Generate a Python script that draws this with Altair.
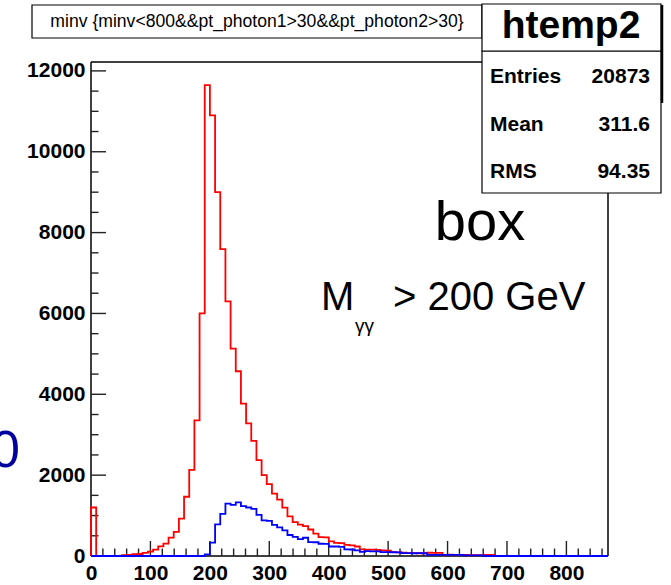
import altair as alt
import pandas as pd

# ---- histogram contents: 100 bins of width 8.7 over [0, 870] ----
BIN_WIDTH = 8.7
X_MAX = 870.0
Y_MAX = 12220

red_counts = [
    1200, 0, 0, 0, 0, 0, 20, 30, 45, 50,
    75, 108, 157, 240, 306, 455, 596, 927, 1466, 2129,
    3353, 6000, 11650, 10900, 9000, 7590, 6300, 5130, 4570, 3770,
    3280, 2850, 2370, 2000, 1776, 1545, 1396, 1197, 981, 840,
    775, 740, 655, 555, 467, 460, 360, 325, 320, 275,
    265, 235, 165, 160, 158, 150, 137, 130, 95, 90,
    80, 70, 70, 68, 70, 80, 78, 75, 30, 32,
    28, 30, 25, 18, 22, 20, 25, 25, 0, 0,
    0, 0, 0, 0, 0, 0, 0, 0, 0, 0,
    0, 0, 0, 0, 0, 0, 0, 0, 0, 0,
]

blue_counts = [
    0, 0, 0, 0, 0, 0, 0, 0, 0, 0,
    0, 0, 0, 0, 0, 0, 0, 0, 0, 0,
    0, 0, 40, 330, 780, 1040, 1297, 1265, 1325, 1235,
    1200, 1165, 1015, 880, 870, 770, 708, 633, 520, 475,
    418, 452, 345, 340, 303, 300, 235, 235, 225, 165,
    161, 140, 104, 120, 115, 112, 95, 95, 93, 92,
    70, 70, 68, 70, 68, 30, 30, 30, 30, 30,
    30, 30, 15, 15, 15, 15, 0, 0, 0, 0,
    0, 0, 0, 0, 0, 0, 0, 0, 0, 0,
    0, 0, 0, 0, 0, 0, 0, 0, 0, 0,
]

y_major = [0, 2000, 4000, 6000, 8000, 10000, 12000]
y_minor = [v for v in range(500, 12001, 500) if v % 2000]
x_major = [0, 100, 200, 300, 400, 500, 600, 700, 800]
x_minor = [v for v in range(20, 861, 20) if v % 100]

stats_names = ["Entries", "Mean", "RMS"]
stats_values = ["20873", "311.6", "94.35"]

title_text = "minv {minv<800&&pt_photon1>30&&pt_photon2>30}"

W, H = 517, 494
FONT = "Liberation Sans"

xs = alt.Scale(domain=[0, X_MAX], nice=False, zero=False)
ys = alt.Scale(domain=[0, Y_MAX], nice=False)


def outline(counts):
    """Step outline of a histogram, closed down to zero at both ends."""
    rows = [{"i": 0, "x": 0.0, "n": 0}]
    for k, c in enumerate(counts):
        rows.append({"i": k + 1, "x": k * BIN_WIDTH, "n": c})
    rows.append({"i": len(counts) + 1, "x": X_MAX, "n": counts[-1]})
    rows.append({"i": len(counts) + 2, "x": X_MAX, "n": 0})
    return pd.DataFrame(rows)


one = pd.DataFrame({"k": [0]})

red = alt.Chart(outline(red_counts)).mark_line(
    interpolate="step-after", color="#ff0000", strokeWidth=1.8
).encode(
    x=alt.X("x:Q", scale=xs, axis=alt.Axis(
        values=x_major, format="d", title=None, ticks=False, domain=False, grid=False,
        labelFont=FONT, labelFontWeight="bold", labelFontSize=21, labelColor="black",
        labelPadding=6, labelFlush=False, labelOverlap=False, labelBound=False)),
    y=alt.Y("n:Q", scale=ys, axis=alt.Axis(
        values=y_major, format="d", title=None, ticks=False, domain=False, grid=False,
        labelFont=FONT, labelFontWeight="bold", labelFontSize=21, labelColor="black",
        labelPadding=6, labelFlush=False, labelOverlap=False, labelBound=False)),
    order="i:Q",
)

blue = alt.Chart(outline(blue_counts)).mark_line(
    interpolate="step-after", color="#0000ff", strokeWidth=1.8
).encode(
    x=alt.X("x:Q", scale=xs, axis=None),
    y=alt.Y("n:Q", scale=ys, axis=None),
    order="i:Q",
)

# inward-pointing tick marks
tick_color = "#222222"
y_maj_t = alt.Chart(pd.DataFrame({"v": y_major})).mark_rule(color=tick_color, strokeWidth=1.4).encode(
    y=alt.Y("v:Q", scale=ys, axis=None), x=alt.value(0), x2=alt.value(15))
y_min_t = alt.Chart(pd.DataFrame({"v": y_minor})).mark_rule(color=tick_color, strokeWidth=1.4).encode(
    y=alt.Y("v:Q", scale=ys, axis=None), x=alt.value(0), x2=alt.value(7.5))
x_maj_t = alt.Chart(pd.DataFrame({"v": x_major})).mark_rule(color=tick_color, strokeWidth=1.4).encode(
    x=alt.X("v:Q", scale=xs, axis=None), y=alt.value(H), y2=alt.value(H - 15))
x_min_t = alt.Chart(pd.DataFrame({"v": x_minor})).mark_rule(color=tick_color, strokeWidth=1.4).encode(
    x=alt.X("v:Q", scale=xs, axis=None), y=alt.value(H), y2=alt.value(H - 7.5))

# frame around the plot area
frame_rows = pd.DataFrame({
    "x1": [0, W, 0, 0], "x2": [W, W, 0, W],
    "y1": [0, 0, 0, H], "y2": [0, H, H, H],
})
frame = alt.Chart(frame_rows).mark_rule(color="black", strokeWidth=1.5).encode(
    x=alt.X("x1:Q", scale=alt.Scale(domain=[0, W], range=[0, W]), axis=None),
    x2="x2:Q",
    y=alt.Y("y1:Q", scale=alt.Scale(domain=[0, H], range=[0, H]), axis=None),
    y2="y2:Q",
)


def box(x1, x2, y1, y2, sw=1.2):
    return alt.Chart(one).mark_rect(fill="white", stroke="black", strokeWidth=sw).encode(
        x=alt.value(x1), x2=alt.value(x2), y=alt.value(y1), y2=alt.value(y2))


def label(text, x, y, size, weight="normal", align="left", baseline="alphabetic", color="black"):
    return alt.Chart(one).mark_text(
        text=text, font=FONT, fontSize=size, fontWeight=weight, align=align,
        baseline=baseline, color=color,
    ).encode(x=alt.value(x), y=alt.value(y))


title_box = box(-59, 391, -57, -24)
title_lbl = label(title_text, 166, -40.5, 17.6, align="center", baseline="middle")

name_box = box(391, 570, -58, -11)
name_lbl = label("htemp2", 480, -24, 39, weight="bold", align="center")
stats_box = box(391, 570, -11, 131)
shadow = alt.Chart(one).mark_rule(color="black", strokeWidth=2.5).encode(
    x=alt.value(571), y=alt.value(-57), y2=alt.value(41))

stat_layers = []
for j, (nm, val) in enumerate(zip(stats_names, stats_values)):
    base_y = 21.3 + 47.5 * j
    stat_layers.append(label(nm, 399, base_y, 21, weight="bold"))
    stat_layers.append(label(val, 559, base_y, 21, weight="bold", align="right"))

box_lbl = label("box", 389, 178, 56, align="center")
m_lbl = label("M", 230, 248, 40)
sub_lbl = label("γγ", 264, 270, 19)
cut_lbl = label("> 200 GeV", 302, 248, 40)
edge_lbl = label("0", -71, 405, 52, align="right", color="#0000a0")

chart = alt.layer(
    frame, y_maj_t, y_min_t, x_maj_t, x_min_t, red, blue,
    title_box, title_lbl, stats_box, name_box, name_lbl, shadow, *stat_layers,
    box_lbl, m_lbl, sub_lbl, cut_lbl, edge_lbl,
).resolve_scale(x="independent", y="independent").properties(
    width=W, height=H,
    autosize=alt.AutoSizeParams(type="none"),
    padding={"left": 91, "top": 62, "right": 63, "bottom": 29},
    background="white",
).configure_view(stroke=None)

chart.save("out.html", embed_options={"renderer": "svg", "actions": False})
